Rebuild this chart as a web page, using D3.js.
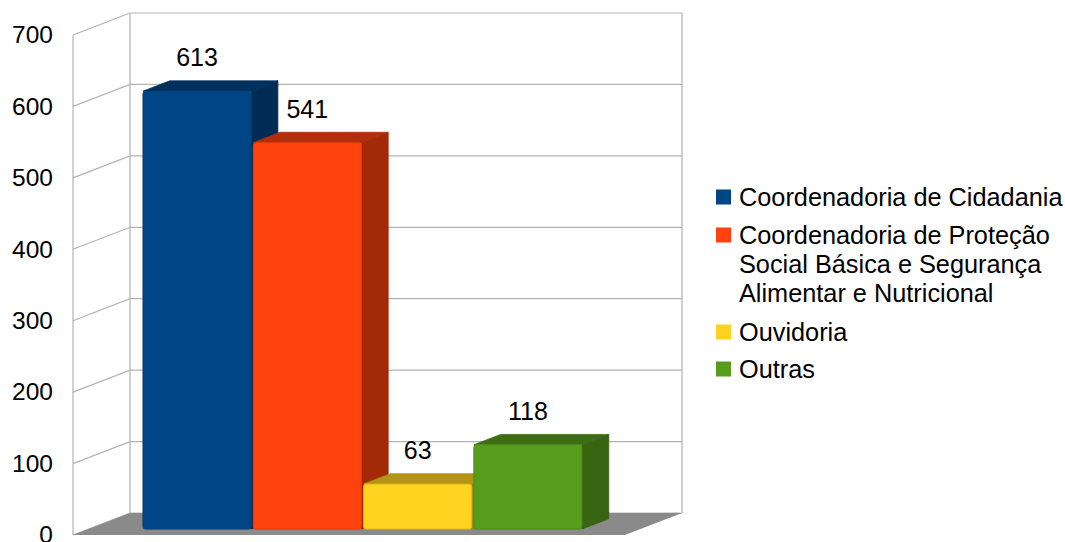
<!DOCTYPE html>
<html>
<head>
<meta charset="utf-8">
<script src="https://cdn.jsdelivr.net/npm/d3@7"></script>
<style>
  html, body { margin: 0; padding: 0; background: #ffffff; }
  svg { display: block; font-family: "Liberation Sans", Arial, sans-serif; }
</style>
</head>
<body>
<svg id="chart" width="1065" height="542"></svg>
<script>
// Series (one category, four series)
const seriesNames = [
  "Coordenadoria de Cidadania",
  "Coordenadoria de Proteção Social Básica e Segurança Alimentar e Nutricional",
  "Ouvidoria",
  "Outras"
];
const legendLines = [
  ["Coordenadoria de Cidadania"],
  ["Coordenadoria de Proteção", "Social Básica e Segurança", "Alimentar e Nutricional"],
  ["Ouvidoria"],
  ["Outras"]
];
const seriesValues = [613, 541, 63, 118];
const seriesColors = ["#004586", "#ff420e", "#ffd320", "#579d1c"];
const tickValues = [0, 100, 200, 300, 400, 500, 600, 700];

const svg = d3.select("#chart");

// Oblique 3D frame: front-left floor corner, floor width, and full depth vector
const ox = 73, oy = 535;
const floorW = 552;
const depth = { x: 57, y: -22 };
const barZ0 = 0.27, barZ1 = 0.74;   // bar front/back as fraction of depth

const h = d3.scaleLinear().domain([0, 700]).range([0, 500]);
const xBand = d3.scaleBand().domain(seriesNames).range([54.6, 493.6]).paddingInner(0.02);

// project (x along floor front, value, depth fraction)
function P(x, v, z) {
  return [ox + x + z * depth.x, oy - h(v) + z * depth.y];
}
const poly = pts => "M" + pts.map(p => p.join(",")).join("L") + "Z";

const grid = "#b3b3b3";

// Walls: left side wall and back wall outlines
const gWalls = svg.append("g");
// back wall verticals
gWalls.append("line").attr("x1", P(0, 0, 1)[0]).attr("y1", P(0, 0, 1)[1])
  .attr("x2", P(0, 700, 1)[0]).attr("y2", P(0, 700, 1)[1]);
gWalls.append("line").attr("x1", P(floorW, 0, 1)[0]).attr("y1", P(floorW, 0, 1)[1])
  .attr("x2", P(floorW, 700, 1)[0]).attr("y2", P(floorW, 700, 1)[1]);
// side wall front edge
gWalls.append("line").attr("x1", P(0, 0, 0)[0]).attr("y1", P(0, 0, 0)[1])
  .attr("x2", P(0, 700, 0)[0]).attr("y2", P(0, 700, 0)[1]);
// gridlines on side wall and back wall
tickValues.forEach(v => {
  const a = P(0, v, 0), b = P(0, v, 1), c = P(floorW, v, 1);
  gWalls.append("path").attr("d", `M${a}L${b}L${c}`).attr("fill", "none");
});
gWalls.selectAll("line,path").attr("stroke", grid).attr("stroke-width", 1.2);

// Floor
svg.append("path")
  .attr("d", poly([P(0, 0, 0), P(0, 0, 1), P(floorW, 0, 1), P(floorW, 0, 0)]))
  .attr("fill", "#8a8a8a");

// Bars, drawn left to right so right-hand bars cover the side faces
const gBars = svg.append("g");
seriesNames.forEach((name, i) => {
  const v = seriesValues[i];
  const x0 = xBand(name), x1 = x0 + xBand.bandwidth();
  const col = d3.color(seriesColors[i]);
  const g = gBars.append("g");
  // right side face
  g.append("path")
    .attr("d", poly([P(x1, 0, barZ0), P(x1, v, barZ0), P(x1, v, barZ1), P(x1, 0, barZ1)]))
    .attr("fill", col.darker(1.25)).attr("stroke", col.darker(1.4)).attr("stroke-width", 0.8)
    .attr("stroke-linejoin", "round");
  // top face
  g.append("path")
    .attr("d", poly([P(x0, v, barZ0), P(x0, v, barZ1), P(x1, v, barZ1), P(x1, v, barZ0)]))
    .attr("fill", col.darker(1.0)).attr("stroke", col.darker(1.1)).attr("stroke-width", 0.8)
    .attr("stroke-linejoin", "round");
  // front face
  const f0 = P(x0, v, barZ0), f1 = P(x1, 0, barZ0);
  g.append("rect")
    .attr("x", f0[0]).attr("y", f0[1])
    .attr("width", f1[0] - f0[0]).attr("height", f1[1] - f0[1])
    .attr("rx", 2.5)
    .attr("fill", col).attr("stroke", col.darker(0.35)).attr("stroke-width", 1);
});

// Value labels above each bar
svg.append("g").selectAll("text").data(seriesNames).join("text")
  .attr("x", d => P(xBand(d) + xBand.bandwidth() / 2, 0, barZ0)[0])
  .attr("y", (d, i) => P(0, seriesValues[i], barZ0)[1] - 25)
  .attr("text-anchor", "middle")
  .attr("font-size", 25)
  .attr("fill", "#000")
  .text((d, i) => seriesValues[i]);

// Value axis on the front edge of the side wall
const yFront = d3.scaleLinear().domain([0, 700]).range([oy, oy - h(700)]);
const axis = svg.append("g").attr("transform", "translate(53,0)")
  .call(d3.axisLeft(yFront).tickValues(tickValues).tickSize(0).tickPadding(0).tickFormat(d3.format("d")));
axis.select(".domain").remove();
axis.selectAll("text").attr("font-size", 24.5).attr("fill", "#000")
  .attr("font-family", "'Liberation Sans', Arial, sans-serif");

// Legend
const legend = svg.append("g").attr("transform", "translate(716,0)");
const rowY = [197, 235, 332, 369];
seriesNames.forEach((name, i) => {
  const g = legend.append("g").attr("transform", `translate(0,${rowY[i]})`);
  g.append("rect").attr("x", 0).attr("y", -7.5).attr("width", 15).attr("height", 15)
    .attr("fill", seriesColors[i]);
  const t = g.append("text").attr("x", 23).attr("y", 0)
    .attr("font-size", 25.3).attr("fill", "#000");
  legendLines[i].forEach((ln, j) => {
    t.append("tspan").attr("x", 23).attr("dy", j === 0 ? "0.35em" : 29).text(ln);
  });
});
</script>
</body>
</html>
